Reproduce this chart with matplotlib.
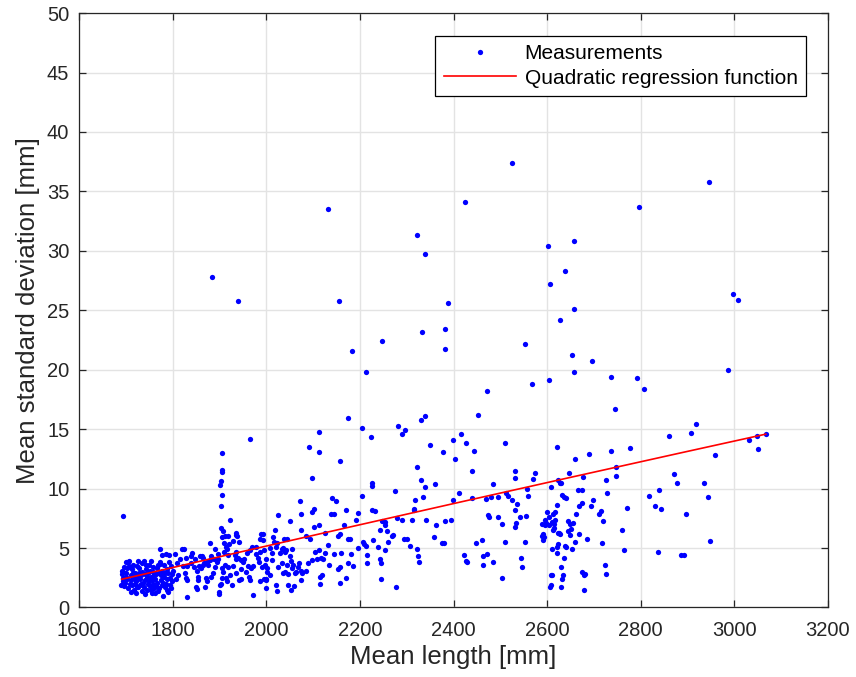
import numpy as np
import matplotlib
matplotlib.use("Agg")
import matplotlib.pyplot as plt

plt.rcParams['font.family'] = ['Liberation Sans', 'DejaVu Sans']

# mean length [mm] and mean standard deviation [mm], grouped by x range
len_a = [1694, 1693, 1693, 1694, 1695, 1692, 1696, 1697, 1699, 1700, 1701, 1701, 1703, 1704, 1706, 1705,
         1708, 1709, 1710, 1711, 1713, 1714, 1715, 1717, 1718, 1720, 1721, 1722, 1723, 1724, 1726,
         1727, 1728, 1729, 1731, 1733, 1735, 1735, 1734, 1738, 1740, 1741, 1742, 1743, 1745, 1746,
         1748, 1750, 1750, 1752, 1754, 1754, 1755, 1758, 1759, 1760, 1762, 1763, 1765,
         1767, 1770, 1771, 1772, 1773, 1774, 1775, 1777, 1777, 1780, 1781, 1784, 1785, 1786, 1787, 1789,
         1792, 1795, 1795, 1797, 1798, 1690, 1691, 1698, 1702, 1712, 1716, 1719, 1725, 1730, 1732,
         1737, 1739, 1744, 1747, 1751, 1753, 1756, 1757, 1761, 1764, 1766, 1768, 1769, 1776, 1778,
         1779, 1782, 1783, 1788, 1790, 1791, 1793, 1796, 1799]
std_a = [7.7, 2.0, 2.5, 3.0, 2.2, 2.8, 3.4, 1.8, 2.1, 2.6, 2.9, 3.8, 2.4, 1.6, 3.9, 3.7,
         2.0, 3.4, 2.7, 2.3, 3.2, 1.9, 2.9, 1.5, 2.5, 2.9, 1.2, 2.2, 3.5, 1.75, 2.6,
         1.75, 3.3, 2.9, 2.4, 2.0, 3.7, 3.0, 1.4, 3.9, 2.8, 1.1, 2.3, 3.2, 1.5, 2.6,
         2.9, 3.6, 2.2, 1.8, 3.9, 2.6, 1.2, 2.0, 3.0, 1.6, 1.2, 2.4, 2.8,
         3.3, 2.9, 1.6, 4.9, 3.65, 3.8, 2.3, 4.4, 1.9, 1.0, 2.6, 2.9, 4.5, 2.0, 1.5, 3.2,
         4.4, 2.45, 1.9, 3.5, 2.8, 1.9, 3.1, 2.4, 3.3, 1.3, 3.6, 2.0, 3.9, 1.9, 2.7,
         2.1, 1.7, 3.6, 2.0, 3.1, 1.5, 2.3, 3.4, 2.7, 1.8, 2.1, 1.4, 3.6, 2.7, 3.1,
         2.1, 3.6, 1.7, 2.4, 1.3, 2.9, 3.8, 1.6, 2.2]

len_b = [1800, 1804, 1807, 1810, 1812, 1815, 1821, 1822, 1824, 1826, 1828, 1829, 1830, 1831, 1831,
         1839, 1839, 1841, 1845, 1847, 1849, 1852, 1853, 1854, 1855, 1856, 1859, 1861, 1862, 1864,
         1865, 1867, 1870, 1871, 1874, 1874, 1876, 1879, 1879, 1882, 1883, 1886, 1884, 1889, 1891,
         1891, 1894, 1896, 1897, 1898, 1899, 1901, 1902, 1903, 1903, 1904, 1904, 1905, 1905, 1905,
         1906, 1906, 1906, 1906, 1907, 1908, 1909, 1910, 1911, 1912, 1913, 1914, 1916, 1917, 1918,
         1918, 1919, 1921, 1923, 1923, 1926, 1928, 1929, 1933, 1935, 1935, 1935, 1936, 1936, 1938,
         1939, 1940, 1941, 1942, 1945, 1945, 1947, 1950, 1953, 1956, 1958, 1962, 1963, 1965, 1965,
         1966, 1968, 1969, 1972, 1972, 1978, 1979, 1983, 1985, 1986, 1986, 1987, 1989, 1990, 1993,
         1993, 1995, 1996, 1998, 2000, 2000, 2001]
std_b = [3.1, 4.5, 2.4, 3.7, 2.7, 4.1, 4.9, 3.5, 4.9, 2.9, 2.5, 4.2, 0.9, 3.5, 2.3,
         4.3, 3.7, 4.6, 3.4, 4.1, 1.7, 1.55, 3.1, 2.6, 2.3, 3.5, 4.3, 3.3, 4.3, 3.6,
         4.2, 3.7, 1.75, 2.5, 2.2, 3.8, 3.6, 4.0, 5.4, 4.35, 2.6, 2.9, 27.8, 4.1, 4.9,
         3.4, 3.8, 4.1, 4.5, 1.1, 1.3, 10.3, 1.9, 10.6, 6.65, 8.5, 2.0, 2.5, 11.6, 11.4,
         12.96, 9.5, 3.3, 5.9, 3.0, 6.4, 5.4, 4.7, 6.0, 3.6, 2.5, 5.1, 4.9, 2.2, 4.4,
         6.0, 3.4, 5.3, 7.32, 2.7, 1.9, 3.5, 5.6, 4.4, 6.1, 2.9, 4.1, 6.3, 4.7, 6.0,
         25.8, 4.2, 2.3, 5.5, 3.2, 2.4, 4.0, 3.8, 4.1, 3.0, 4.6, 3.5, 2.6, 4.86, 14.2,
         2.3, 3.3, 5.05, 3.5, 1.05, 5.1, 4.5, 4.2, 3.8, 5.75, 2.2, 4.7, 6.2, 3.4, 6.2,
         5.7, 2.4, 4.8, 3.6, 2.4, 4.1, 3.3]

len_c = [1999, 2000, 2002, 2008, 2008, 2012, 2013, 2015, 2016, 2019, 2020, 2021, 2022, 2023, 2025,
         2026, 2030, 2033, 2034, 2035, 2036, 2038, 2039, 2040, 2043, 2044, 2045, 2046, 2047, 2050,
         2050, 2052, 2053, 2055, 2056, 2058, 2060, 2061, 2063, 2068, 2069, 2073, 2074, 2074, 2075,
         2075, 2077, 2084, 2085, 2090, 2091, 2093, 2097, 2097, 2098, 2102, 2102, 2105, 2108, 2112,
         2113, 2113, 2113, 2114, 2115, 2118, 2119, 2122, 2126, 2126, 2132, 2132, 2135, 2138, 2140,
         2144, 2145, 2149, 2153, 2154, 2155, 2157, 2157, 2157, 2157, 2160, 2166, 2170, 2171, 2174,
         2174, 2175, 2179, 2181, 2183, 2186, 2192, 2196, 2197, 2204, 2204, 2206, 2209, 2212, 2214,
         2215, 2216, 2224, 2226, 2226, 2226, 2229, 2233, 2238, 2242, 2244, 2246, 2246, 2247, 2247,
         2253, 2254, 2254, 2257, 2260, 2268, 2271, 2275, 2278, 2280, 2282, 2290, 2291, 2294, 2297,
         2300, 2307, 2312, 2315, 2318]
std_c = [2.3, 1.6, 2.95, 2.7, 5.0, 4.0, 4.6, 5.9, 5.5, 6.5, 5.1, 1.9, 5.4, 1.4, 3.4,
         7.8, 4.6, 3.7, 4.9, 2.9, 5.0, 5.8, 3.0, 4.7, 4.8, 3.6, 5.8, 2.8, 1.9, 7.3,
         4.3, 3.9, 1.5, 4.9, 3.3, 3.6, 1.8, 2.9, 3.0, 3.4, 3.7, 8.96, 3.1, 2.3, 6.5,
         7.9, 2.9, 6.0, 3.1, 3.7, 13.5, 5.8, 10.9, 4.0, 8.0, 8.3, 6.8, 4.7, 4.1, 14.8,
         13.1, 6.9, 4.8, 2.6, 2.0, 4.2, 2.7, 4.1, 6.3, 4.6, 5.26, 33.5, 3.55, 7.9, 9.2,
         7.9, 4.5, 8.96, 3.2, 6.0, 25.8, 12.3, 6.2, 3.4, 2.1, 4.6, 6.9, 8.2, 2.5, 5.8,
         3.7, 15.9, 5.8, 4.5, 21.6, 3.5, 7.4, 7.95, 5.0, 9.4, 15.1, 5.5, 5.3, 19.8, 5.2,
         3.7, 4.4, 14.3, 10.5, 10.2, 8.2, 5.7, 8.1, 5.1, 4.1, 6.5, 3.7, 2.4, 7.3, 22.4,
         6.9, 7.2, 4.8, 6.4, 5.5, 6.0, 6.1, 9.8, 1.76, 7.5, 15.3, 14.6, 7.4, 5.8, 14.9,
         5.8, 5.2, 7.4, 8.2, 9.0]

len_d = [2316, 2321, 2322, 2323, 2325, 2326, 2331, 2331, 2332, 2334, 2339, 2339, 2340, 2342, 2349,
         2359, 2360, 2362, 2375, 2377, 2379, 2381, 2381, 2381, 2388, 2394, 2399, 2399, 2403, 2412,
         2415, 2423, 2424, 2426, 2427, 2428, 2439, 2440, 2444, 2449, 2453, 2461, 2463, 2464, 2469,
         2472, 2472, 2474, 2476, 2481, 2485, 2485, 2494, 2495, 2504, 2504, 2509, 2510, 2512, 2516,
         2525, 2525, 2531, 2532, 2532, 2532, 2534, 2535, 2541, 2545, 2546, 2552, 2553, 2555, 2556,
         2560, 2568, 2570, 2575, 2588, 2590, 2591, 2592, 2593, 2595, 2596, 2598, 2600, 2602, 2603,
         2604, 2605, 2606, 2607, 2608, 2608, 2609, 2610, 2611, 2611, 2612, 2613, 2614, 2615, 2616,
         2617, 2621, 2621, 2622, 2622, 2624, 2624, 2624, 2625, 2627, 2628, 2629, 2630, 2631, 2632,
         2633, 2636, 2637, 2638, 2639, 2640, 2641, 2644, 2644, 2646, 2648]
std_d = [8.3, 11.8, 31.3, 4.9, 4.3, 3.8, 15.8, 10.7, 23.2, 9.3, 16.1, 29.7, 10.1, 7.4, 13.7,
         5.9, 10.4, 6.9, 5.4, 13.1, 5.4, 7.3, 23.4, 21.7, 25.6, 7.4, 14.1, 9.0, 12.5, 9.6,
         14.6, 4.4, 34.1, 3.9, 13.8, 3.8, 9.2, 11.5, 13.2, 5.4, 16.2, 5.7, 3.6, 4.3, 9.1,
         4.5, 18.2, 7.8, 7.6, 9.3, 10.4, 3.8, 9.3, 7.6, 7.0, 2.5, 5.5, 13.8, 9.6, 9.4,
         9.0, 37.4, 6.8, 11.5, 10.9, 8.2, 7.1, 8.7, 7.6, 4.2, 3.4, 5.5, 22.2, 7.7, 10.0,
         9.4, 18.8, 10.8, 11.3, 6.0, 7.0, 5.7, 6.2, 5.9, 6.9, 7.4, 7.1, 8.0, 30.4, 6.9,
         19.1, 7.6, 1.7, 27.2, 2.7, 1.9, 10.1, 7.2, 4.95, 2.7, 7.9, 6.5, 7.0, 6.7, 7.4,
         8.0, 8.6, 5.1, 13.5, 4.6, 10.7, 6.3, 5.3, 6.3, 24.2, 10.5, 3.4, 1.7, 2.4, 9.5,
         2.7, 4.2, 9.3, 5.2, 28.3, 5.1, 9.2, 7.3, 6.4, 11.3, 7.0]

len_e = [2627, 2629, 2649, 2652, 2653, 2653, 2656, 2657, 2658, 2658, 2659, 2660, 2662, 2666, 2669,
         2669, 2674, 2674, 2674, 2676, 2678, 2679, 2681, 2686, 2690, 2693, 2695, 2699, 2710, 2714,
         2717, 2719, 2723, 2726, 2726, 2728, 2736, 2737, 2744, 2748, 2748, 2760, 2765, 2771, 2778,
         2791, 2797, 2807, 2818, 2830, 2837, 2839, 2844, 2860, 2870, 2877, 2885, 2892, 2896, 2907,
         2919, 2936, 2944, 2945, 2948, 2959, 2986, 2998, 3007, 3032, 3049, 3051, 3067]
std_e = [6.2, 10.5, 6.1, 6.6, 21.2, 4.9, 7.1, 19.8, 30.8, 25.1, 5.5, 12.5, 7.9, 9.9, 8.5,
         6.2, 9.9, 3.0, 8.8, 11.0, 1.5, 2.7, 2.8, 5.8, 12.9, 8.5, 20.7, 9.0, 7.9, 8.1,
         5.4, 7.3, 3.6, 10.7, 2.8, 9.6, 19.4, 13.2, 16.7, 11.8, 11.1, 6.5, 4.8, 8.4, 13.4,
         19.3, 33.7, 18.4, 9.4, 8.5, 4.7, 9.9, 8.3, 14.4, 11.2, 10.5, 4.4, 4.4, 7.9, 14.7,
         15.4, 10.5, 9.3, 35.8, 5.6, 12.8, 20.0, 26.4, 25.9, 14.1, 14.4, 13.35, 14.6]

# three points (start, middle, end)
fit_len = [1691, 2328, 3067]
fit_std = [2.37, 8.1, 14.58]

x = np.array(len_a + len_b + len_c + len_d + len_e, dtype=float)
y = np.array(std_a + std_b + std_c + std_d + std_e, dtype=float)

# quadratic regression function through the read points
coef = np.polyfit(fit_len, fit_std, 2)
xs = np.linspace(fit_len[0], fit_len[-1], 300)

fig = plt.figure(figsize=(8.56, 6.77), dpi=100)
ax = fig.add_axes([0.0923, 0.1027, 0.875, 0.878])

ax.plot(x, y, 'o', color='blue', ms=3.8, mew=0, label='Measurements')
ax.plot(xs, np.polyval(coef, xs), color='red', lw=1.2, label='Quadratic regression function')

ax.set_xlim(1600, 3200)
ax.set_ylim(0, 50)
ax.set_xticks(np.arange(1600, 3201, 200))
ax.set_yticks(np.arange(0, 51, 5))
ax.grid(True, color='#e3e3e3', lw=1)
ax.set_axisbelow(True)
for s in ax.spines.values():
    s.set_color('#262626')
    s.set_linewidth(0.9)
ax.tick_params(direction='in', top=True, right=True, length=5, width=0.9,
               colors='#262626', labelsize=14.5)
ax.tick_params(axis='x', pad=10)
ax.tick_params(axis='y', pad=7)
ax.set_xlabel('Mean length [mm]', fontsize=18.5, color='#262626', labelpad=3)
ax.set_ylabel('Mean standard deviation [mm]', fontsize=18.5, color='#262626', labelpad=5)

leg = ax.legend(loc='upper right', bbox_to_anchor=(0.9706, 0.9613), borderaxespad=0,
                fontsize=15, fancybox=False, framealpha=1, edgecolor='black',
                handlelength=3.46, handletextpad=0.43, labelspacing=0.25, borderpad=0.4)
leg.get_frame().set_linewidth(0.9)

fig.savefig('out.png', dpi=100)
